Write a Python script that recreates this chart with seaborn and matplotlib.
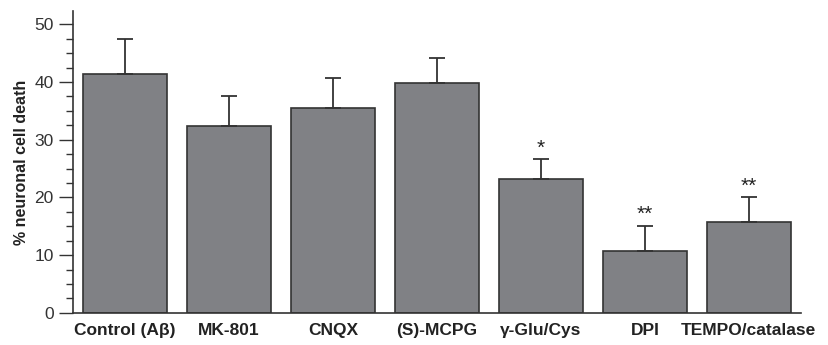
import matplotlib
matplotlib.use("Agg")
import matplotlib.pyplot as plt
import seaborn as sns
import pandas as pd
import numpy as np
from matplotlib.ticker import MultipleLocator

categories = ["Control (A\u03b2)", "MK-801", "CNQX", "(S)-MCPG", "\u03b3-Glu/Cys", "DPI", "TEMPO/catalase"]
values = [41.4, 32.4, 35.5, 39.8, 23.2, 10.8, 15.8]
errors = [6.1, 5.2, 5.2, 4.3, 3.4, 4.3, 4.2]
marks = ["", "", "", "", "*", "**", "**"]

sns.set_theme(style="ticks")
plt.rcParams['font.family'] = ['Liberation Sans', 'DejaVu Sans']

fig = plt.figure(figsize=(8.29, 3.45), dpi=100)
ax = fig.add_axes([0.088, 0.093, 0.878, 0.875])

df = pd.DataFrame({"cat": categories, "val": values})
sns.barplot(data=df, x="cat", y="val", color="#808185", saturation=1,
            edgecolor="#333333", linewidth=1.2, width=0.81, ax=ax, errorbar=None)

x = np.arange(len(categories))
ax.errorbar(x, values, yerr=[np.zeros(len(errors)), errors], fmt="none",
            ecolor="#333333", elinewidth=1.3, capsize=6, capthick=1.3, zorder=3)

for xi, v, e, m in zip(x, values, errors, marks):
    if m:
        ax.text(xi, v + e + 0.3, m, ha="center", va="bottom", fontsize=15, color="#222222")

ax.set_xlim(-0.5, 6.5)
ax.set_ylim(0, 52.3)
ax.yaxis.set_major_locator(MultipleLocator(10))
ax.yaxis.set_minor_locator(MultipleLocator(2.5))
ax.tick_params(axis="y", which="major", length=10, width=1, direction="out", pad=4,
               labelsize=12.5, colors="#333333")
ax.tick_params(axis="y", which="minor", length=5, width=1, direction="out", colors="#333333")
ax.tick_params(axis="x", length=0, labelsize=12.5, pad=7, colors="#222222")
for lab in ax.get_xticklabels():
    lab.set_fontweight("bold")
ax.set_xlabel("")
ax.set_ylabel("% neuronal cell death", fontsize=11.5, fontweight="bold", color="#222222", labelpad=4)
for s in ["top", "right"]:
    ax.spines[s].set_visible(False)
for s in ["left", "bottom"]:
    ax.spines[s].set_color("#333333")
    ax.spines[s].set_linewidth(1.2)

fig.savefig("out.png", dpi=100)
